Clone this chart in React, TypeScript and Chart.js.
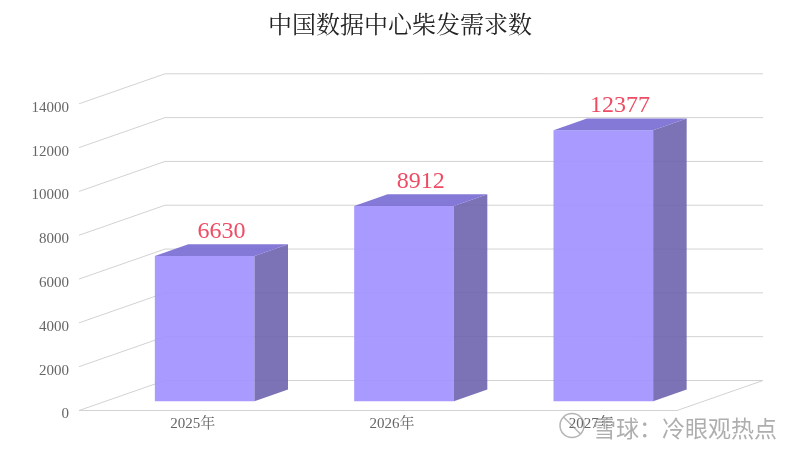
import React, { useEffect, useRef } from "react";
import { Chart, registerables } from "chart.js";

Chart.register(...registerables);

const categories = ["2025年", "2026年", "2027年"];
const demand = [6630, 8912, 12377];
const titleText = "中国数据中心柴发需求数";
const watermarkText = "雪球：冷眼观热点";

const SERIF = '"Liberation Serif", "Noto Serif CJK SC", "Noto Sans CJK SC", serif';
const GRID = "#d2d2d2";
const WALL_DX = 86;
const WALL_DY = -30;
const BAR_SHIFT_X = 26;
const BAR_SHIFT_Y = -9.2;
const BAR_DX = 33.5;
const BAR_DY = -11.7;

const threeD = {
  id: "threeD",
  beforeDatasetsDraw(chart: any) {
    const { ctx, chartArea: a, scales } = chart;
    const y = scales.y;
    ctx.save();
    ctx.strokeStyle = GRID;
    ctx.lineWidth = 1;
    ctx.beginPath();
    y.ticks.forEach((t: any) => {
      const py = y.getPixelForValue(t.value);
      ctx.moveTo(a.left, py);
      ctx.lineTo(a.left + WALL_DX, py + WALL_DY);
      ctx.lineTo(a.right + WALL_DX, py + WALL_DY);
    });
    ctx.moveTo(a.left, a.bottom);
    ctx.lineTo(a.right, a.bottom);
    ctx.lineTo(a.right + WALL_DX, a.bottom + WALL_DY);
    ctx.stroke();
    ctx.restore();
    ctx.save();
    ctx.translate(BAR_SHIFT_X, BAR_SHIFT_Y);
  },
  afterDatasetsDraw(chart: any) {
    const { ctx } = chart;
    ctx.restore();
    const meta = chart.getDatasetMeta(0);
    const values = chart.data.datasets[0].data;
    ctx.save();
    meta.data.forEach((bar: any, i: number) => {
      const right = bar.x + bar.width / 2 + BAR_SHIFT_X;
      const left = bar.x - bar.width / 2 + BAR_SHIFT_X;
      const top = bar.y + BAR_SHIFT_Y;
      const bottom = bar.base + BAR_SHIFT_Y;
      ctx.fillStyle = "rgba(110,100,175,0.9)";
      ctx.beginPath();
      ctx.moveTo(right, top);
      ctx.lineTo(right + BAR_DX, top + BAR_DY);
      ctx.lineTo(right + BAR_DX, bottom + BAR_DY);
      ctx.lineTo(right, bottom);
      ctx.closePath();
      ctx.fill();
      ctx.fillStyle = "rgba(122,110,212,0.92)";
      ctx.beginPath();
      ctx.moveTo(left, top);
      ctx.lineTo(left + BAR_DX, top + BAR_DY);
      ctx.lineTo(right + BAR_DX, top + BAR_DY);
      ctx.lineTo(right, top);
      ctx.closePath();
      ctx.fill();
      ctx.fillStyle = "#ee4c64";
      ctx.font = `24px ${SERIF}`;
      ctx.textAlign = "center";
      ctx.textBaseline = "alphabetic";
      ctx.fillText(String(values[i]), (left + right + BAR_DX) / 2, top + BAR_DY - 6);
    });
    ctx.restore();
  },
  afterDraw(chart: any) {
    const { ctx } = chart;
    ctx.save();
    ctx.font = '23px "Noto Sans CJK SC", sans-serif';
    ctx.textAlign = "left";
    ctx.textBaseline = "middle";
    ctx.fillStyle = "rgba(255,255,255,0.85)";
    ctx.fillText(watermarkText, 594, 429);
    ctx.fillStyle = "rgba(140,140,140,0.7)";
    ctx.fillText(watermarkText, 593, 428);
    ctx.strokeStyle = "rgba(140,140,140,0.65)";
    ctx.lineWidth = 1.5;
    ctx.beginPath();
    ctx.arc(572, 425.5, 12, 0, Math.PI * 2);
    ctx.moveTo(564, 417.5);
    ctx.lineTo(581, 434.5);
    ctx.stroke();
    ctx.restore();
  },
};

export default function App() {
  const ref = useRef<HTMLCanvasElement>(null);
  useEffect(() => {
    const chart = new Chart(ref.current as HTMLCanvasElement, {
      type: "bar",
      data: {
        labels: categories,
        datasets: [
          {
            data: demand,
            backgroundColor: "rgba(163,146,255,0.93)",
            borderWidth: 0,
            barPercentage: 0.5,
            categoryPercentage: 1,
            clip: false,
          } as any,
        ],
      },
      options: {
        animation: false,
        responsive: false,
        devicePixelRatio: 1,
        plugins: {
          legend: { display: false },
          tooltip: { enabled: false },
          title: {
            display: true,
            text: titleText,
            color: "#222222",
            font: { family: SERIF, size: 24, weight: "normal" },
            padding: { top: 12, bottom: 63 },
          },
        },
        scales: {
          x: {
            grid: { display: false, drawTicks: false },
            border: { display: false },
            afterFit: (s: any) => {
              s.height = 40.5;
            },
            ticks: {
              color: "#666666",
              font: { family: SERIF, size: 15 },
              labelOffset: 14,
              padding: 5,
              autoSkip: false,
              maxRotation: 0,
            },
          },
          y: {
            min: 0,
            max: 14000,
            grid: { display: false, drawTicks: false },
            border: { display: false },
            afterFit: (s: any) => {
              s.width = 79;
            },
            ticks: {
              stepSize: 2000,
              color: "#666666",
              font: { family: SERIF, size: 15 },
              padding: 10,
              labelOffset: 4,
              callback: (v: any) => String(v),
            },
          },
          depthMargin: {
            type: "linear",
            position: "right",
            display: true,
            grid: { display: false, drawTicks: false },
            border: { display: false },
            ticks: { display: false },
            afterFit: (s: any) => {
              s.width = 123;
            },
          },
        },
      } as any,
      plugins: [threeD],
    });
    return () => chart.destroy();
  }, []);
  return (
    <div style={{ position: "absolute", left: 0, top: 0, width: 800, height: 451, background: "#fff" }}>
      <canvas ref={ref} width={800} height={451} style={{ display: "block" }} />
    </div>
  );
}
